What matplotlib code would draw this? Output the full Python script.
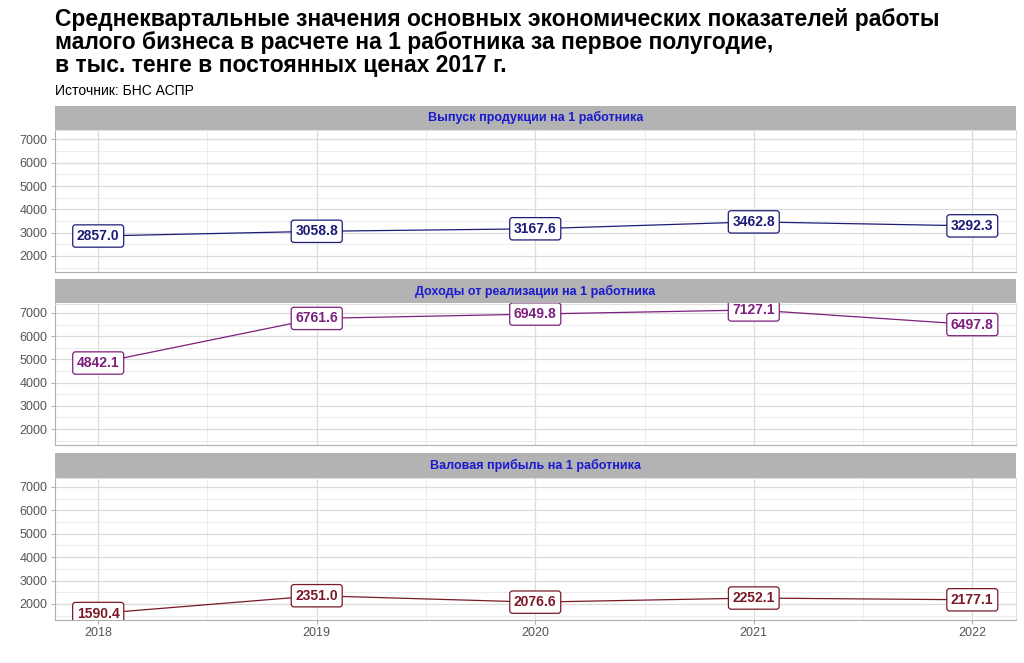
import matplotlib.pyplot as plt
from matplotlib.ticker import MultipleLocator

plt.rcParams['font.family'] = ['Liberation Sans', 'DejaVu Sans']

years = [2018, 2019, 2020, 2021, 2022]
panels = ["Выпуск продукции на 1 работника",
          "Доходы от реализации на 1 работника",
          "Валовая прибыль на 1 работника"]
output = [2857.0, 3058.8, 3167.6, 3462.8, 3292.3]
revenue = [4842.1, 6761.6, 6949.8, 7127.1, 6497.8]
profit = [1590.4, 2351.0, 2076.6, 2252.1, 2177.1]
series = [output, revenue, profit]
colors = ['#1c1c78', '#7d1f7d', '#7a1a26']
y_ticks = [2000, 3000, 4000, 5000, 6000, 7000]

title = ("Среднеквартальные значения основных экономических показателей работы\n"
         "малого бизнеса в расчете на 1 работника за первое полугодие,\n"
         "в тыс. тенге в постоянных ценах 2017 г.")

fig = plt.figure(figsize=(10.24, 6.63), dpi=100)
fig.text(0.054, 0.988, title, fontsize=16.5, fontweight='bold', va='top',
         ha='left', linespacing=1.0)
fig.text(0.054, 0.862, "Источник: БНС АСПР", fontsize=10, va='center', ha='left')

# shared y range, ggplot style 5% expansion
lo = min(min(s) for s in series)
hi = max(max(s) for s in series)
pad = (hi - lo) * 0.05
xpad = (years[-1] - years[0]) * 0.05

left, width = 54.5 / 1024, (1016 - 54.5) / 1024
axes_px = [(130, 272), (303.5, 445), (477.5, 620)]
strip_h = 24.5

for i, (top, bot) in enumerate(axes_px):
    ax = fig.add_axes([left, 1 - bot / 663, width, (bot - top) / 663])
    ax.set_xlim(years[0] - xpad, years[-1] + xpad)
    ax.set_ylim(lo - pad, hi + pad)
    ax.set_yticks(y_ticks)
    ax.set_xticks(years)
    ax.yaxis.set_minor_locator(MultipleLocator(500))
    ax.xaxis.set_minor_locator(MultipleLocator(0.5))
    ax.grid(which='major', color='#dcdcdc', lw=0.9)
    ax.grid(which='minor', color='#ececec', lw=0.7)
    ax.set_axisbelow(True)
    for sp in ['top', 'right']:
        ax.spines[sp].set_color('#e0e0e0')
    for sp in ['left', 'bottom']:
        ax.spines[sp].set_color('#b0b0b0')
    ax.tick_params(which='major', length=3, color='#b0b0b0', labelsize=9,
                   labelcolor='#555555', pad=2)
    ax.tick_params(which='minor', length=0)
    if i < 2:
        ax.tick_params(axis='x', labelbottom=False, length=0)

    vals = series[i]
    ax.plot(years, vals, color=colors[i], lw=0.9, zorder=2)
    for x, v in zip(years, vals):
        ax.text(x, v, f"{v:.1f}", color=colors[i], fontsize=10, fontweight='bold',
                ha='center', va='center', clip_on=True, zorder=3,
                bbox=dict(boxstyle='round,pad=0.3,rounding_size=0.2', fc='white',
                          ec=colors[i], lw=0.9))

    # facet strip
    sax = fig.add_axes([left, 1 - top / 663, width, strip_h / 663])
    sax.set_facecolor('#b3b3b3')
    sax.set_xticks([])
    sax.set_yticks([])
    for sp in sax.spines.values():
        sp.set_visible(False)
    sax.text(0.5, 0.5, panels[i], transform=sax.transAxes, ha='center',
             va='center', fontsize=9, fontweight='bold', color='#1a1ad0')

fig.savefig('out.png', dpi=100)
